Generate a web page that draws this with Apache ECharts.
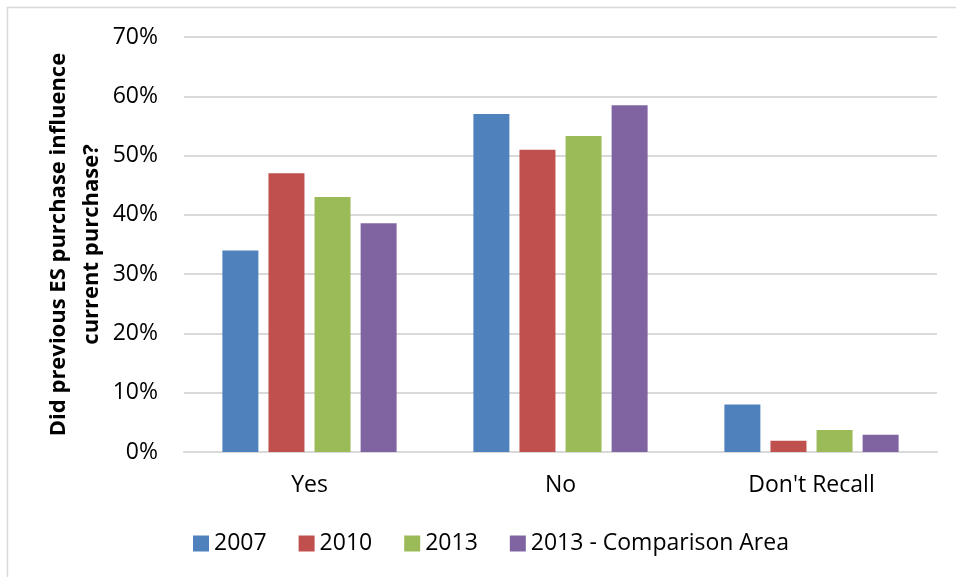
<!DOCTYPE html>
<html>
<head>
<meta charset="utf-8">
<script src="https://cdn.jsdelivr.net/npm/echarts@6/dist/echarts.min.js"></script>
<style>
html,body{margin:0;padding:0;background:#fff;}
#c{width:956px;height:577px;}
</style>
</head>
<body>
<div id="c"></div>
<script>
const categories = ["Yes", "No", "Don't Recall"];
const seriesNames = ["2007", "2010", "2013", "2013 - Comparison Area"];
const s2007 = [34, 57, 8];
const s2010 = [47, 51, 1.9];
const s2013 = [43, 53.3, 3.7];
const sComp = [38.6, 58.5, 2.9];
const colors = ["#4F81BD", "#C0504D", "#9BBB59", "#8064A2"];
const yTitle = "Did previous ES purchase influence\ncurrent purchase?";

const FONT = "Open Sans";
const chart = echarts.init(document.getElementById('c'));
const allData = [s2007, s2010, s2013, sComp];

chart.setOption({
  backgroundColor: '#fff',
  textStyle: { fontFamily: FONT },
  graphic: [
    { type: 'line', shape: { x1: 7, y1: 7.5, x2: 956, y2: 7.5 }, style: { stroke: '#d9d9d9', lineWidth: 1.5 } },
    { type: 'line', shape: { x1: 7.5, y1: 7, x2: 7.5, y2: 577 }, style: { stroke: '#d9d9d9', lineWidth: 1.5 } }
  ],
  grid: { left: 184, right: 19, top: 37, bottom: 125 },
  legend: {
    left: 193,
    top: 532,
    padding: 0,
    itemWidth: 16,
    itemHeight: 16,
    itemGap: 32,
    icon: 'rect',
    textStyle: { fontFamily: FONT, fontSize: 23, color: '#000' },
    data: seriesNames
  },
  xAxis: {
    type: 'category',
    data: categories,
    axisLine: { lineStyle: { color: '#d9d9d9', width: 2 } },
    axisTick: { show: false },
    axisLabel: { fontFamily: FONT, fontSize: 23, color: '#000', margin: 22 }
  },
  yAxis: {
    type: 'value',
    min: 0,
    max: 70,
    interval: 10,
    name: yTitle,
    nameLocation: 'middle',
    nameRotate: 90,
    nameGap: 76,
    nameMoveOverlap: false,
    nameTextStyle: { fontFamily: FONT, fontSize: 22, fontWeight: 'bold', color: '#000', lineHeight: 33 },
    axisLine: { show: false },
    axisTick: { show: false },
    splitLine: { lineStyle: { color: '#d9d9d9', width: 2 } },
    axisLabel: { fontFamily: FONT, fontSize: 23, color: '#000', margin: 26, formatter: v => v + '%' }
  },
  series: seriesNames.map((n, i) => ({
    name: n,
    type: 'bar',
    data: allData[i],
    barWidth: 36,
    barGap: '28%',
    itemStyle: { color: colors[i] }
  }))
});
</script>
</body>
</html>
